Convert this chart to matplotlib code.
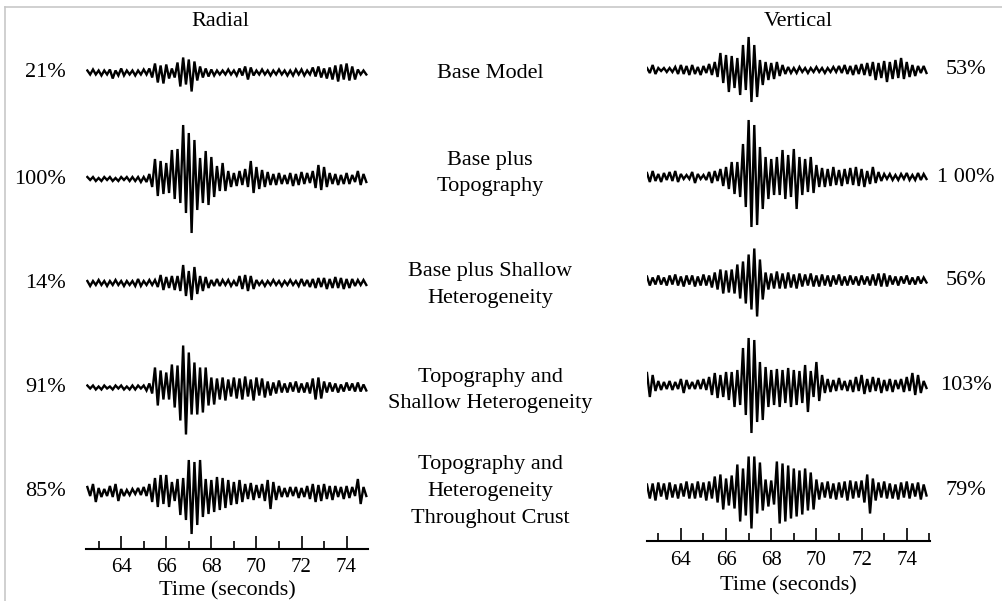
import numpy as np
import matplotlib
matplotlib.use("Agg")
import matplotlib.pyplot as plt
from matplotlib.ticker import MultipleLocator

# ---------------- data (peak amplitudes, px-like units, 8 per second from 62.5 s) ----
t_start = 62.5
t_step = 0.125

radial_base = [
    2, -2, 3, -2, 2, -3, 2, -2,
    3, -6, 2, -3, 4, -3, 2, -2,
    2, -3, 2, -2, 3, -2, 4, -5,
    9, -10, 7, -11, 8, -6, 4, -5,
    10, -14, 15, -12, 13, -19, 11, -8,
    6, -5, 4, -4, 3, -3, 2, -2,
    2, -2, 3, -2, 2, -3, 4, -3,
    6, -7, 5, -3, 2, -2, 3, -2,
    2, -3, 2, -2, 3, -2, 2, -3,
    2, -3, 3, -2, 3, -3, 2, -2,
    5, -4, 6, -5, 4, -6, 5, -7,
    7, -9, 8, -7, 9, -8, 6, -7,
    3, -2, 2, -2]

radial_topo = [
    2, -1, 2, -2, 1, -2, 2, -1,
    2, -2, 1, -2, 2, -1, 2, -2,
    2, -2, 2, -3, 2, -3, 5, -8,
    20, -17, 18, -15, 16, -14, 29, -20,
    30, -24, 54, -34, 46, -54, 39, -31,
    21, -24, 28, -26, 22, -18, 13, -12,
    16, -12, 8, -8, 6, -7, 8, -6,
    10, -8, 18, -14, 12, -10, 9, -8,
    7, -6, 5, -6, 6, -5, 4, -5,
    6, -7, 5, -6, 7, -5, 6, -4,
    8, -9, 14, -11, 12, -8, 6, -5,
    5, -6, 4, -5, 6, -5, 4, -3,
    8, -6, 5, -3]

radial_shallow = [
    2, -3, 2, -2, 3, -2, 2, -3,
    2, -2, 3, -2, 2, -3, 2, -2,
    2, -3, 4, -3, 2, -2, 3, -2,
    3, -4, 8, -7, 6, -5, 7, -7,
    7, -8, 18, -13, 12, -17, 16, -11,
    7, -8, 6, -5, 3, -3, 4, -3,
    3, -2, 3, -3, 2, -3, 7, -6,
    8, -8, 7, -6, 3, -2, 2, -3,
    2, -2, 3, -2, 2, -3, 2, -2,
    3, -2, 2, -3, 4, -3, 3, -4,
    4, -5, 5, -4, 5, -6, 4, -5,
    6, -5, 5, -6, 4, -5, 4, -3,
    3, -2, 3, -2]

radial_topo_shallow = [
    2, -1, 2, -2, 1, -2, 2, -1,
    1, -2, 2, -1, 2, -2, 1, -2,
    2, -2, 2, -1, 2, -3, 4, -6,
    20, -18, 17, -12, 15, -12, 23, -20,
    22, -33, 42, -47, 35, -27, 25, -27,
    20, -25, 20, -18, 10, -17, 9, -12,
    10, -13, 8, -9, 10, -11, 9, -12,
    11, -9, 8, -13, 10, -8, 9, -10,
    6, -8, 5, -6, 7, -5, 4, -5,
    5, -4, 6, -5, 4, -5, 5, -6,
    9, -12, 10, -11, 6, -5, 5, -4,
    4, -5, 3, -4, 5, -3, 4, -4,
    5, -4, 3, -3]

radial_crust = [
    5, -4, 8, -10, 4, -5, 3, -4,
    6, -5, 8, -9, 3, -4, 2, -3,
    3, -2, 4, -3, 5, -4, 8, -10,
    14, -15, 17, -12, 17, -15, 10, -9,
    13, -23, 14, -28, 32, -42, 30, -33,
    32, -25, 13, -22, 12, -20, 15, -18,
    14, -16, 12, -13, 10, -12, 12, -10,
    8, -7, 9, -8, 7, -6, 8, -9,
    12, -17, 10, -8, 6, -5, 4, -5,
    5, -4, 5, -6, 4, -5, 6, -7,
    8, -10, 7, -9, 8, -7, 6, -8,
    6, -5, 5, -7, 6, -6, 5, -4,
    13, -12, 5, -4]

vertical_base = [
    2, -3, 5, -4, 2, -1, 2, -2,
    2, -2, 3, -4, 5, -4, 4, -5,
    5, -4, 3, -5, 4, -3, 6, -5,
    8, -7, 17, -13, 15, -22, 14, -18,
    12, -25, 25, -20, 33, -32, 25, -27,
    10, -15, 8, -10, 7, -9, 8, -6,
    5, -4, 3, -3, 2, -3, 3, -2,
    2, -3, 2, -2, 3, -2, 2, -3,
    2, -2, 3, -2, 4, -3, 5, -4,
    4, -5, 5, -4, 6, -5, 7, -6,
    8, -10, 7, -8, 9, -12, 8, -9,
    10, -8, 12, -9, 8, -7, 5, -6,
    4, -3, 4, -3]

vertical_topo = [
    4, -5, 6, -4, 3, -5, 4, -3,
    5, -4, 6, -5, 3, -2, 2, -2,
    5, -6, 3, -2, 2, -3, 5, -6,
    6, -4, 8, -9, 10, -12, 15, -17,
    15, -20, 33, -30, 57, -50, 52, -48,
    30, -32, 20, -22, 18, -18, 20, -18,
    27, -22, 22, -20, 28, -32, 20, -18,
    18, -15, 20, -16, 12, -10, 9, -10,
    8, -9, 10, -8, 7, -9, 8, -7,
    9, -8, 10, -9, 8, -10, 6, -7,
    10, -6, 5, -4, 3, -2, 3, -3,
    2, -3, 3, -2, 4, -3, 2, -3,
    4, -3, 3, -2]

vertical_shallow = [
    4, -5, 3, -4, 5, -4, 3, -5,
    5, -4, 6, -5, 4, -6, 5, -4,
    5, -6, 4, -5, 6, -5, 5, -7,
    8, -9, 11, -13, 10, -12, 11, -13,
    16, -18, 19, -23, 26, -29, 32, -36,
    21, -19, 8, -9, 7, -8, 9, -8,
    7, -8, 8, -7, 6, -8, 7, -6,
    6, -5, 7, -6, 5, -6, 6, -5,
    5, -6, 5, -4, 6, -5, 4, -5,
    5, -4, 4, -5, 5, -4, 4, -5,
    6, -5, 7, -6, 7, -6, 5, -4,
    4, -5, 4, -3, 5, -4, 3, -4,
    4, -3, 3, -2]

vertical_topo_shallow = [
    12, -12, 10, -6, 4, -5, 3, -4,
    4, -5, 3, -4, 6, -8, 5, -4,
    3, -4, 5, -4, 6, -5, 8, -10,
    12, -13, 10, -12, 13, -15, 13, -22,
    15, -20, 37, -30, 47, -48, 45, -37,
    23, -35, 18, -22, 15, -20, 16, -22,
    15, -18, 17, -22, 15, -20, 14, -18,
    20, -27, 14, -12, 23, -16, 10, -8,
    6, -7, 5, -6, 7, -5, 4, -6,
    5, -7, 8, -6, 10, -9, 6, -7,
    8, -6, 7, -8, 5, -6, 6, -7,
    5, -4, 6, -7, 8, -6, 12, -10,
    10, -8, 4, -3]

vertical_crust = [
    6, -8, 7, -10, 8, -6, 7, -9,
    8, -7, 6, -8, 7, -6, 9, -8,
    7, -8, 9, -7, 8, -10, 9, -8,
    14, -12, 16, -19, 12, -15, 15, -18,
    26, -31, 22, -25, 34, -38, 34, -23,
    28, -20, 11, -16, 10, -14, 29, -33,
    27, -31, 25, -28, 22, -26, 20, -24,
    22, -20, 18, -19, 11, -9, 8, -7,
    9, -8, 7, -9, 8, -7, 9, -10,
    10, -8, 9, -7, 10, -12, 16, -23,
    12, -10, 8, -7, 9, -8, 7, -8,
    6, -9, 8, -7, 9, -8, 7, -6,
    8, -9, 6, -5]

radial_traces = [radial_base, radial_topo, radial_shallow, radial_topo_shallow, radial_crust]
vertical_traces = [vertical_base, vertical_topo, vertical_shallow, vertical_topo_shallow, vertical_crust]

radial_pct = ["21%", "100%", "14%", "91%", "85%"]
vertical_pct = ["53%", "1 00%", "56%", "103%", "79%"]
model_labels = ["Base Model", "Base plus\nTopography", "Base plus Shallow\nHeterogeneity",
                "Topography and\nShallow Heterogeneity",
                "Topography and\nHeterogeneity\nThroughout Crust"]
xticks_major = [64, 66, 68, 70, 72, 74]

# ---------------- layout ----------------
W, H = 1003, 601
FONT = "Liberation Serif"
fig = plt.figure(figsize=(W / 100, H / 100), dpi=100)
fig.patch.set_facecolor("white")


def fx(px):
    return px / W


def fy(py):
    return 1 - py / H


# thin grey frame (top and left edges)
fig.add_artist(plt.Line2D([fx(5), fx(1003)], [fy(7), fy(7)], color="#c8c8c8", lw=1.2))
fig.add_artist(plt.Line2D([fx(5), fx(5)], [fy(7), fy(601)], color="#c8c8c8", lw=1.2))

radial_centers = [72.5, 179, 283, 387.5, 492]
vertical_centers = [70, 177, 280.5, 385, 490.5]


def make_axes(x0, x1, axis_y, tmin, tmax, tick_pad):
    ax = fig.add_axes([fx(x0), fy(axis_y), fx(x1) - fx(x0), fy(10) - fy(axis_y)])
    ax.set_xlim(tmin, tmax)
    ax.set_ylim(axis_y, 10)
    for s in ["top", "left", "right"]:
        ax.spines[s].set_visible(False)
    ax.spines["bottom"].set_linewidth(1.5)
    ax.set_yticks([])
    ax.set_xticks(xticks_major)
    ax.xaxis.set_minor_locator(MultipleLocator(1))
    ax.tick_params(axis="x", which="major", direction="in", length=9.5, width=1.2,
                   pad=tick_pad, labelsize=15)
    ax.tick_params(axis="x", which="minor", direction="in", length=5.5, width=1.2)
    for lab in ax.get_xticklabels():
        lab.set_fontfamily(FONT)
    ax.set_facecolor("none")
    return ax


ax_r = make_axes(86, 368, 549, 62.44, 74.95, 6.5)
ax_v = make_axes(647, 930, 541, 62.5, 75.03, 7.5)

for ax, traces, centers in [(ax_r, radial_traces, radial_centers),
                            (ax_v, vertical_traces, vertical_centers)]:
    for tr, c in zip(traces, centers):
        amp = np.asarray(tr, dtype=float)
        t = t_start + t_step * np.arange(len(amp))
        ax.plot(t, c - amp, color="black", lw=1.7, solid_joinstyle="miter")

ax_r.set_xlabel("Time (seconds)", fontfamily=FONT, fontsize=16, labelpad=3)
ax_v.set_xlabel("Time (seconds)", fontfamily=FONT, fontsize=16, labelpad=4.5)

# column titles
fig.text(fx(220), fy(22), "Radial", fontfamily=FONT, fontsize=16, ha="center", va="center")
fig.text(fx(798), fy(22), "Vertical", fontfamily=FONT, fontsize=16, ha="center", va="center")

# percentage labels
for lab, c in zip(radial_pct, radial_centers):
    fig.text(fx(66), fy(c), lab, fontfamily=FONT, fontsize=16, ha="right", va="center")
for lab, c in zip(vertical_pct, vertical_centers):
    fig.text(fx(966), fy(c), lab, fontfamily=FONT, fontsize=16, ha="center", va="center")

# model labels in the middle
label_y = [73, 173.5, 285, 390.5, 491.5]
for lab, y in zip(model_labels, label_y):
    fig.text(fx(490), fy(y), lab, fontfamily=FONT, fontsize=16, ha="center", va="center",
             linespacing=1.55)

fig.savefig("out.png", dpi=100, facecolor="white")
